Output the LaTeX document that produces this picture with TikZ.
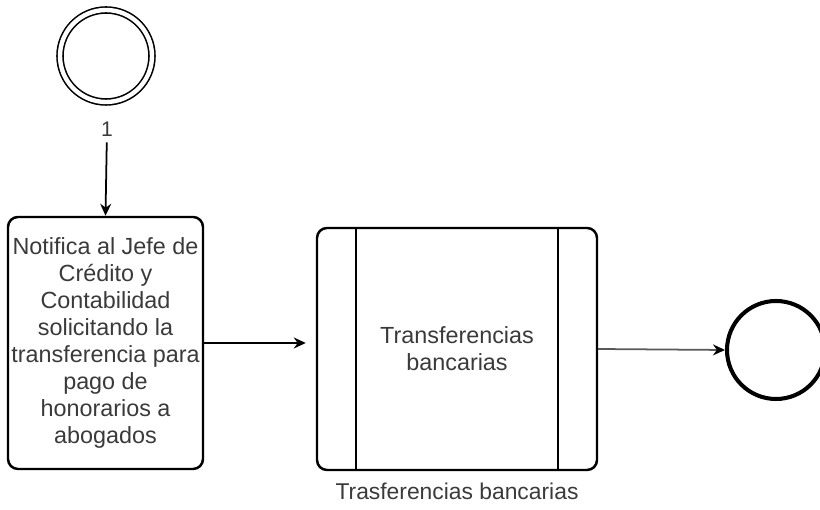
\documentclass[tikz,border=0pt]{standalone}
\usepackage{fontspec}
\setmainfont{Liberation Sans}
\usetikzlibrary{arrows.meta,positioning}
\definecolor{txtgray}{HTML}{3A3A3A}
\tikzset{
    task/.style={draw, rounded corners=0.2cm, line width=1.4pt, align=center, text=txtgray, inner sep=0pt, font=\fontsize{13.3}{15.4}\selectfont},
    flow/.style={-{Stealth[length=0.24cm,width=0.22cm,color=black]}, line width=1pt}
}
\begin{document}
    \begin{tikzpicture}
        \useasboundingbox (0,0) rectangle (16.4,10.2);
        \node [circle, draw, line width=0.9pt, double, double distance=2.5pt, minimum size=1.84cm, inner sep=0pt] (start) at (2.12,9.08) {};
        \node [text=txtgray, font=\fontsize{12}{14}\selectfont] (one) at (2.14,7.62) {1};
        \node [task, minimum width=3.9cm, minimum height=5.04cm] (notif) at (2.11,3.34) {Notifica al Jefe de\\Crédito y\\Contabilidad\\solicitando la\\transferencia para\\pago de\\honorarios a\\abogados};
        \node [task, minimum width=5.6cm, minimum height=4.84cm] (trans) at (9.14,3.22) {Transferencias\\bancarias};
        \draw [line width=1.4pt] ([xshift=0.8cm]trans.north west) -- ([xshift=0.8cm]trans.south west);
        \draw [line width=1.4pt] ([xshift=-0.8cm]trans.north east) -- ([xshift=-0.8cm]trans.south east);
        \node [below=0.12cm of trans, text=txtgray, font=\fontsize{13}{15}\selectfont] (translabel) {Trasferencias bancarias};
        \node [circle, draw, line width=2.3pt, minimum size=1.96cm, inner sep=0pt] (end) at (15.52,3.2) {};
        \draw [flow] (one) -- (notif.north);
        \draw [flow, shorten >=0.2cm] (notif.east) -- (notif.east -| trans.west);
        \draw [flow, draw=black!65] (trans.east) -- (end.west);
    \end{tikzpicture}
\end{document}
